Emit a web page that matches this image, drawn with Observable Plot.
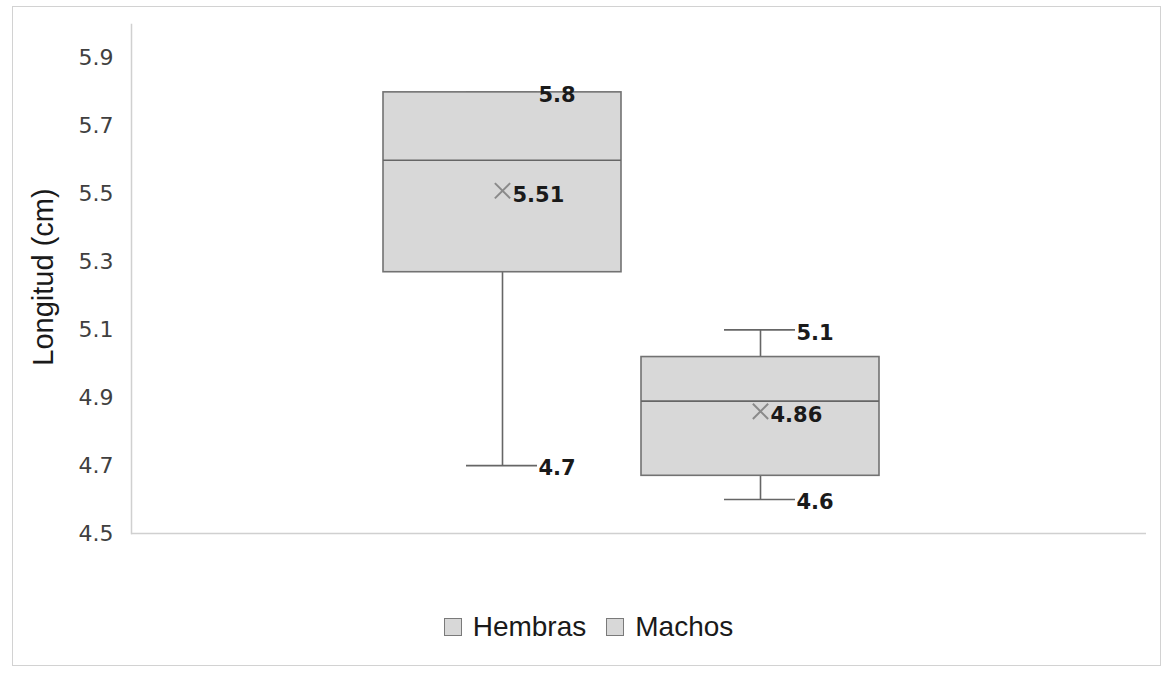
<!DOCTYPE html>
<html>
<head>
<meta charset="utf-8">
<script src="https://cdn.jsdelivr.net/npm/d3@7"></script>
<script src="https://cdn.jsdelivr.net/npm/@observablehq/plot@0.6"></script>
<style>
  html, body { margin: 0; padding: 0; background: #fff; }
  #wrap { position: relative; width: 1165px; height: 673px; overflow: hidden; }
  #border { position: absolute; left: 12px; top: 6px; width: 1149px; height: 660px; border: 1.5px solid #d2d2d2; box-sizing: border-box; pointer-events: none; }
  #chart { position: absolute; left: 0; top: 0; }
  #legend { position: absolute; left: 0; top: 611px; width: 1165px; display: flex; justify-content: center; align-items: center; padding-left: 12px; box-sizing: border-box; font-family: "Liberation Sans", Arial, sans-serif; font-size: 28px; color: #1a1a1a; }
  .item { display: flex; align-items: center; margin: 0 10px; }
  .sw { width: 16px; height: 16px; background: #d8d8d8; border: 1.5px solid #7a7a7a; margin-right: 11px; }
</style>
</head>
<body>
<div id="wrap">
  <div id="chart"></div>
  <div id="legend"></div>
  <div id="border"></div>
</div>
<script>
// ---- data ----
const categories = ["Hembras", "Machos"];
const minimum = [4.7, 4.6];
const q1 = [5.27, 4.67];
const median = [5.6, 4.89];
const q3 = [5.8, 5.02];
const maximum = [5.8, 5.1];
const mean = [5.51, 4.86];
const yTicks = [4.5, 4.7, 4.9, 5.1, 5.3, 5.5, 5.7, 5.9];
const yLabel = "Longitud (cm)";

const data = categories.map((c, i) => ({
  cat: c, min: minimum[i], q1: q1[i], median: median[i], q3: q3[i], max: maximum[i], mean: mean[i]
}));

const whisker = "#666666";
const labelStyle = { fontFamily: "DejaVu Sans, Verdana, sans-serif", fontWeight: "bold", fontSize: 21, fill: "#1a1a1a", textAnchor: "start" };

const marks = [
  Plot.ruleY([4.5], { stroke: "#d0d0d0", strokeWidth: 1.5 }),
  Plot.axisY({ ticks: yTicks, tickSize: 0, tickPadding: 18, tickFormat: d => d.toFixed(1), label: null,
               fontSize: 22, fontFamily: "DejaVu Sans, Verdana, sans-serif", fill: "#404040" }),
  Plot.ruleX(data, { x: "cat", y1: "q3", y2: "max", stroke: whisker, strokeWidth: 1.6 }),
  Plot.ruleX(data, { x: "cat", y1: "min", y2: "q1", stroke: whisker, strokeWidth: 1.6 }),
  Plot.tickY(data, { x: "cat", y: "max", stroke: whisker, strokeWidth: 1.6, insetLeft: 83, insetRight: 84 }),
  Plot.tickY(data, { x: "cat", y: "min", stroke: whisker, strokeWidth: 1.6, insetLeft: 83, insetRight: 84 }),
  Plot.barY(data, { x: "cat", y1: "q1", y2: "q3", fill: "#d8d8d8", stroke: "#727272", strokeWidth: 1.6 }),
  Plot.tickY(data, { x: "cat", y: "median", stroke: whisker, strokeWidth: 1.6 }),
  Plot.dot(data, { x: "cat", y: "mean", symbol: "times", r: 7, stroke: "#8a8a8a", strokeWidth: 2 }),
  Plot.text(data, { x: "cat", y: "mean", text: d => String(d.mean), dx: 10, dy: 4, ...labelStyle }),
  Plot.text(data, { x: "cat", y: "max", text: d => String(d.max), dx: 36, dy: 3, ...labelStyle }),
  Plot.text(data, { x: "cat", y: "min", text: d => String(d.min), dx: 36, dy: 3, ...labelStyle }),
  Plot.text([yLabel], { frameAnchor: "left", text: d => d, rotate: -90, dx: -88, dy: -2,
    fontFamily: "Liberation Sans, Arial, sans-serif", fontSize: 29, fill: "#1a1a1a", textAnchor: "middle" })
];
try {
  marks.unshift(Plot.frame({ anchor: "left", stroke: "#d0d0d0", strokeWidth: 1.5 }));
} catch (e) {}

const chart = Plot.plot({
  width: 1165,
  height: 560,
  marginTop: 24,
  marginBottom: 27,
  marginLeft: 131,
  marginRight: 19,
  style: { fontFamily: "DejaVu Sans, Verdana, sans-serif", fontSize: "21px", color: "#404040", background: "transparent" },
  x: { type: "band", domain: categories, range: [383, 879], paddingInner: 0.078, paddingOuter: 0, axis: null },
  y: { domain: [4.5, 6.0], axis: null },
  marks
});
document.getElementById("chart").appendChild(chart);

const legend = document.getElementById("legend");
categories.forEach(c => {
  const it = document.createElement("div");
  it.className = "item";
  const sw = document.createElement("div");
  sw.className = "sw";
  const t = document.createElement("span");
  t.textContent = c;
  it.appendChild(sw); it.appendChild(t);
  legend.appendChild(it);
});
</script>
</body>
</html>
